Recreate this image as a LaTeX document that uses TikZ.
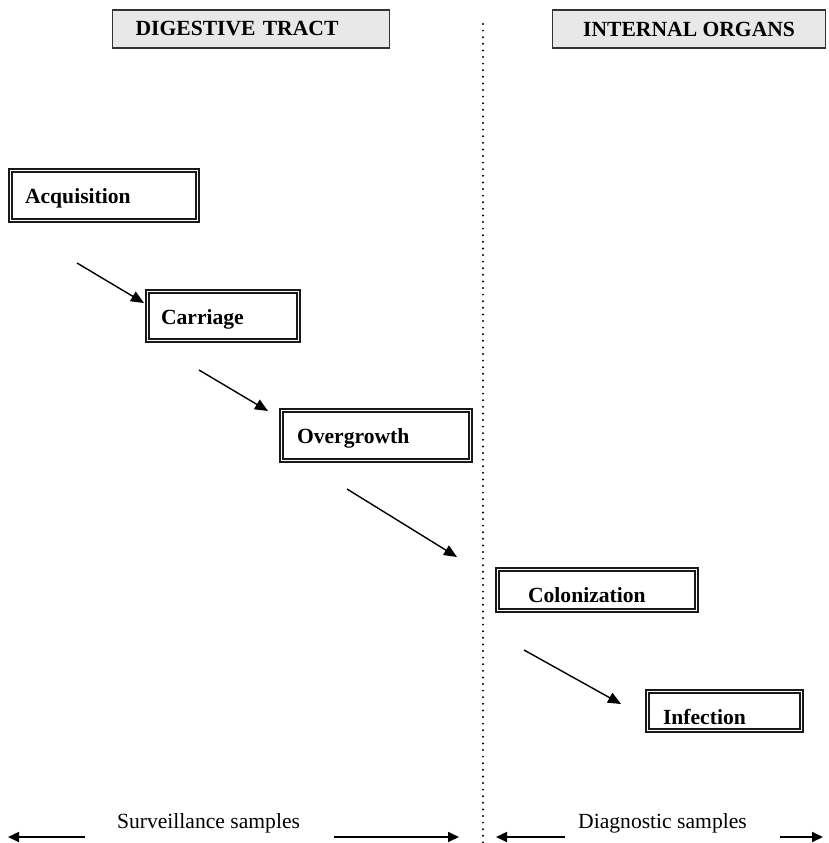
\documentclass[tikz,border=0pt]{standalone}
\usepackage{fontspec}
\setmainfont{Liberation Serif}
\usetikzlibrary{arrows.meta}

\begin{document}
\begin{tikzpicture}[x=0.5pt, y=-0.5pt,
  font=\fontsize{10.8pt}{12pt}\selectfont,
  header/.style={draw=black!80, line width=0.6pt, fill=black!9,
    minimum height=19pt, inner ysep=0pt, font=\fontsize{10.8pt}{12pt}\selectfont\bfseries},
  stage/.style={draw=black!90, line width=1.05pt, double=white, double distance=0.45pt,
    minimum height=#1, inner ysep=0pt, align=left, text height=8pt, text depth=0pt,
    font=\fontsize{10.8pt}{12pt}\selectfont\bfseries},
  flow/.style={line width=0.7pt, -{Triangle[length=6.5pt,width=5.5pt]}},
  span/.style={line width=0.85pt, -{Triangle[length=5.5pt,width=5pt]}},
  divider/.style={line width=1.1pt, line cap=round, dash pattern=on 0pt off 3.3pt}
]
\useasboundingbox (0,0) rectangle (829,843);

% column headers
\node[header, anchor=west, minimum width=138.5pt, text width=115.5pt, inner xsep=11.5pt, align=left]
  (dig) at (112,29) {DIGESTIVE TRACT};
\node[header, anchor=west, minimum width=136.5pt] (org) at (552,29) {INTERNAL ORGANS};

% boundary between the two compartments
\coordinate (divtop) at (483,24);
\coordinate (divbot) at (483,843);
\draw[divider] (divtop) -- (divbot);

% stages (sizes are those of the outer edge of the double frame, less its width)
\node[stage=25pt, anchor=west, text width=79pt, inner xsep=7.25pt] (acq) at (9.5,195.5) {Acquisition};
\node[stage=24.5pt, anchor=west, text width=62pt, inner xsep=6.75pt] (car) at (146.5,316) {Carriage};
\node[stage=25pt, anchor=west, text width=79pt, inner xsep=7.75pt] (ove) at (280.5,435.5) {Overgrowth};
\node[stage=20.5pt, anchor=west, text width=69pt, inner xsep=15.25pt, text height=12pt] (col) at (496.5,590) {Colonization};
\node[stage=19.5pt, anchor=west, text width=61.5pt, inner xsep=7.75pt, text height=13pt] (inf) at (646.5,711) {Infection};

% progression arrows
\coordinate (a1) at (77,263);   \coordinate (b1) at (144,303);
\coordinate (a2) at (199,370);  \coordinate (b2) at (268,411);
\coordinate (a3) at (347,489);  \coordinate (b3) at (457,557);
\coordinate (a4) at (524,650);  \coordinate (b4) at (621,704);
\draw[flow] (a1) -- (b1);
\draw[flow] (a2) -- (b2);
\draw[flow] (a3) -- (b3);
\draw[flow] (a4) -- (b4);

% sampling ranges
\node[anchor=base] (surv) at (208.5,828) {Surveillance samples};
\node[anchor=base] (diag) at (662.5,828) {Diagnostic samples};
\coordinate (s1) at (85,837);  \coordinate (s1e) at (8,837);
\coordinate (s2) at (334,837); \coordinate (s2e) at (459,837);
\coordinate (d1) at (565,837); \coordinate (d1e) at (496,837);
\coordinate (d2) at (780,837); \coordinate (d2e) at (823,837);
\draw[span] (s1) -- (s1e);
\draw[span] (s2) -- (s2e);
\draw[span] (d1) -- (d1e);
\draw[span] (d2) -- (d2e);
\end{tikzpicture}
\end{document}
